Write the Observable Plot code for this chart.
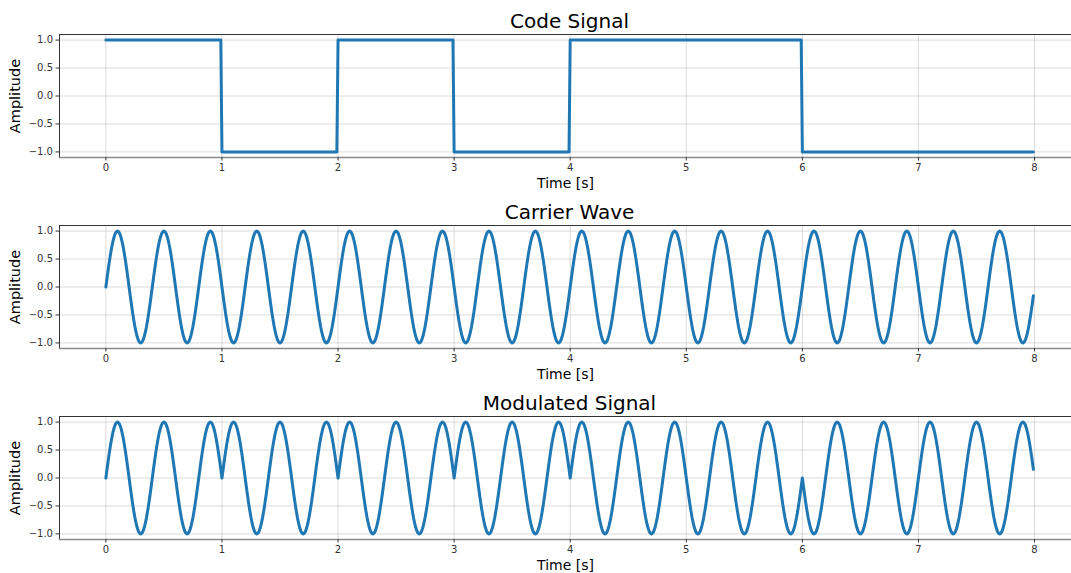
<!DOCTYPE html>
<html><head><meta charset="utf-8">
<script src="https://cdn.jsdelivr.net/npm/d3@7"></script>
<script src="https://cdn.jsdelivr.net/npm/@observablehq/plot@0.6"></script>
<style>
body{margin:0;background:#fff;overflow:hidden;}
#chart{width:1071px;height:573px;}
#chart svg{display:block;}
</style></head><body><div id="chart"></div>
<script>
// Values
const codeBits = [1, -1, 1, -1, 1, 1, -1, -1];   // code value for each 1-second slot
const carrierFreq = 2.5;                          // Hz (period 0.4 s, 20 cycles over 8 s)
const sampleStep = 0.01;                          // s, last sample at 7.99 s
const duration = 8;                               // s
const xTicks = [0, 1, 2, 3, 4, 5, 6, 7, 8];
const yTicks = [-1, -0.5, 0, 0.5, 1];
const titles = ["Code Signal", "Carrier Wave", "Modulated Signal"];
const xLabel = "Time [s]";
const yLabel = "Amplitude";

const n = Math.round(duration / sampleStep);
const time = d3.range(n).map(i => i * sampleStep);
const code = time.map(t => codeBits[Math.floor(t + 1e-9)]);
const carrier = time.map(t => Math.sin(2 * Math.PI * carrierFreq * t));
const modulated = time.map((t, i) => code[i] * carrier[i]);
const seriesList = [code, carrier, modulated];

function panel(title, values) {
  const data = time.map((t, i) => ({t, v: values[i]}));
  return Plot.plot({
    width: 1071, height: 191,
    marginLeft: 59, marginRight: 0, marginTop: 34, marginBottom: 34,
    style: {fontFamily: "DejaVu Sans", fontSize: "10px", color: "#333", background: "#fff", overflow: "visible"},
    x: {domain: [-0.3995, 8.3185]},
    y: {domain: [-1.1, 1.1]},
    marks: [
      Plot.gridX(xTicks, {stroke: "#b0b0b0", strokeOpacity: 0.45}),
      Plot.gridY(yTicks, {stroke: "#b0b0b0", strokeOpacity: 0.45}),
      Plot.line(data, {x: "t", y: "v", stroke: "#1f77b4", strokeWidth: 3}),
      Plot.frame({anchor: "top", stroke: "#333", strokeOpacity: 1}),
      Plot.frame({anchor: "left", stroke: "#333", strokeOpacity: 1}),
      Plot.frame({anchor: "bottom", stroke: "#8a8a8a", strokeWidth: 1.6, strokeOpacity: 1}),
      Plot.axisX(xTicks, {tickSize: 3.5, tickPadding: 3, label: null, tickFormat: d3.format("d")}),
      Plot.axisY(yTicks, {tickSize: 3.5, tickPadding: 3, label: null, tickFormat: d3.format(".1f")}),
      Plot.text([title], {text: d => d, frameAnchor: "top", dy: -7, dx: 4, lineAnchor: "bottom", fontSize: 20, fill: "#000"}),
      Plot.text([xLabel], {text: d => d, frameAnchor: "bottom", dy: 26, lineAnchor: "middle", fontSize: 14, fill: "#000"}),
      Plot.text([yLabel], {text: d => d, frameAnchor: "left", dx: -44, rotate: -90, textAnchor: "middle", lineAnchor: "middle", fontSize: 14.5, fill: "#000"})
    ]
  });
}

const root = document.getElementById("chart");
titles.forEach((t, k) => root.appendChild(panel(t, seriesList[k])));
</script>
</body></html>
